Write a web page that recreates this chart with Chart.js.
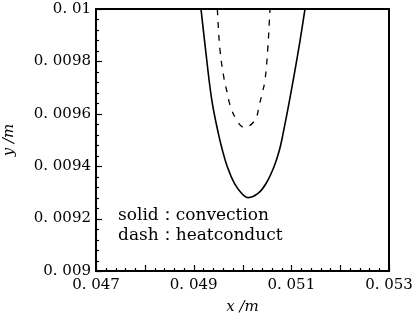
<!DOCTYPE html>
<html>
<head>
<meta charset="utf-8">
<script src="https://cdn.jsdelivr.net/npm/chart.js@4/dist/chart.umd.min.js"></script>
<style>
  html, body { margin: 0; padding: 0; background: #fff; }
  #wrap { width: 414px; height: 324px; }
</style>
</head>
<body>
<div id="wrap"><canvas id="c" width="414" height="324"></canvas></div>
<script>
// Solid curve: convection
const solidX = [0.04915, 0.049244, 0.049371, 0.049504, 0.049586, 0.049689, 0.049832, 0.04998, 0.050119, 0.050324, 0.050485, 0.050645, 0.050758, 0.050833, 0.050965, 0.051147, 0.05128];
const solidY = [0.01, 0.009844, 0.009653, 0.009526, 0.009463, 0.009398, 0.009335, 0.009297, 0.00928, 0.009297, 0.009335, 0.009398, 0.009463, 0.009526, 0.009653, 0.009844, 0.01];
// Dashed curve: heat conduction
const dashX = [0.049484, 0.049539, 0.049627, 0.049689, 0.049744, 0.049881, 0.050037, 0.050256, 0.050344, 0.050405, 0.050461, 0.050516, 0.050563];
const dashY = [0.01, 0.009844, 0.009729, 0.009679, 0.009634, 0.009576, 0.009548, 0.009576, 0.009634, 0.009679, 0.009729, 0.009844, 0.01];

const xMin = 0.047, xMax = 0.053, xLabelStep = 0.002;
const yMin = 0.009, yMax = 0.01, yLabelStep = 0.0002;
const legendLines = ["solid：convection", "dash：heatconduct"];
const xTitle = "x /m";
const yTitle = "y /m";

const toPts = (xs, ys) => xs.map((x, i) => ({ x: x, y: ys[i] }));
const fmt = v => String(parseFloat(Number(v).toFixed(6))).replace('0.', '0. ');

const FONT = "'DejaVu Serif', 'Liberation Serif', serif";

const frameTicks = {
  id: 'frameTicks',
  afterDraw(chart) {
    const ctx = chart.ctx, a = chart.chartArea;
    const xs = chart.scales.x, ys = chart.scales.y;
    ctx.save();
    ctx.strokeStyle = '#000';
    ctx.lineWidth = 2;
    ctx.strokeRect(a.left, a.top, a.right - a.left, a.bottom - a.top);
    ctx.lineWidth = 1.2;
    const nx = Math.round((xMax - xMin) / 0.0002);
    for (let i = 0; i <= nx; i++) {
      const px = Math.round(xs.getPixelForValue(xMin + i * 0.0002)) + 0.5;
      const len = i % 5 === 0 ? 6 : 3;
      ctx.beginPath(); ctx.moveTo(px, a.bottom); ctx.lineTo(px, a.bottom - len); ctx.stroke();
    }
    const ny = Math.round((yMax - yMin) / 0.00004);
    for (let i = 0; i <= ny; i++) {
      const py = Math.round(ys.getPixelForValue(yMin + i * 0.00004)) + 0.5;
      const len = i % 5 === 0 ? 6 : 3;
      ctx.beginPath(); ctx.moveTo(a.left, py); ctx.lineTo(a.left + len, py); ctx.stroke();
    }
    ctx.fillStyle = '#000';
    ctx.font = "17px " + FONT;
    ctx.textBaseline = 'alphabetic';
    ctx.textAlign = 'left';
    ctx.fillText(legendLines[0], a.left + 22, a.top + 211);
    ctx.fillText(legendLines[1], a.left + 22, a.top + 231);
    ctx.restore();
  }
};

new Chart(document.getElementById('c'), {
  type: 'scatter',
  data: {
    datasets: [
      {
        label: 'convection',
        data: toPts(solidX, solidY),
        showLine: true,
        borderColor: '#000',
        borderWidth: 1.6,
        pointRadius: 0,
        tension: 0.4,
        fill: false
      },
      {
        label: 'heatconduct',
        data: toPts(dashX, dashY),
        showLine: true,
        borderColor: '#000',
        borderWidth: 1.3,
        borderDash: [6, 7],
        pointRadius: 0,
        tension: 0.4,
        fill: false
      }
    ]
  },
  options: {
    responsive: false,
    animation: false,
    events: [],
    layout: { padding: { top: 9, right: 25, left: 0, bottom: 0 } },
    plugins: { legend: { display: false }, tooltip: { enabled: false } },
    scales: {
      x: {
        type: 'linear',
        min: xMin, max: xMax,
        grid: { display: false, drawTicks: false },
        border: { display: false },
        ticks: {
          stepSize: xLabelStep,
          color: '#000',
          padding: 5,
          maxRotation: 0,
          font: { family: FONT, size: 15 },
          callback: v => fmt(v)
        },
        title: { display: true, text: xTitle, color: '#000', padding: { top: 8, bottom: 8 },
                 font: { family: FONT, size: 15, style: 'italic' } },
        afterFit: s => { s.height = 53; s.paddingLeft = 0; s.paddingRight = 0; }
      },
      y: {
        type: 'linear',
        min: yMin, max: yMax,
        grid: { display: false, drawTicks: false },
        border: { display: false },
        ticks: {
          stepSize: yLabelStep,
          color: '#000',
          padding: 5,
          font: { family: FONT, size: 15 },
          callback: v => fmt(v)
        },
        title: { display: true, text: yTitle, color: '#000', padding: { top: 0, bottom: 0 },
                 font: { family: FONT, size: 15, style: 'italic' } },
        afterFit: s => { s.width = 96; s.paddingTop = 0; s.paddingBottom = 0; }
      }
    }
  },
  plugins: [frameTicks]
});
</script>
</body>
</html>
